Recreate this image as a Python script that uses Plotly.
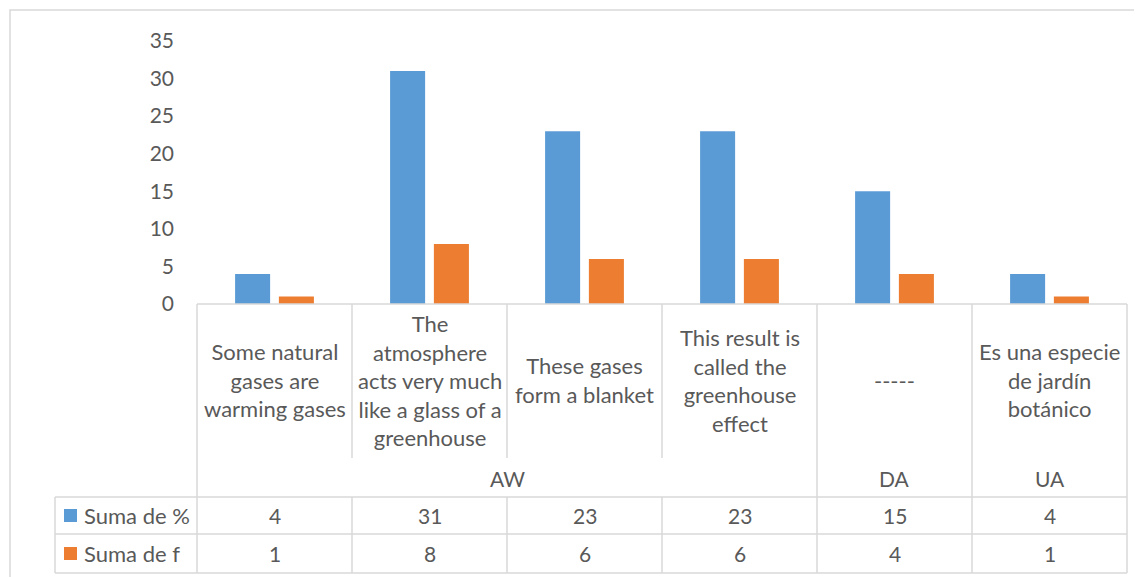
import plotly.graph_objects as go

# ---- data ----
categories = [
    "Some natural<br>gases are<br>warming gases",
    "The<br>atmosphere<br>acts very much<br>like a glass of a<br>greenhouse",
    "These gases<br>form a blanket",
    "This result is<br>called the<br>greenhouse<br>effect",
    "-----",
    "Es una especie<br>de jardín<br>botánico",
]
groups = ["AW", "AW", "AW", "AW", "DA", "UA"]
series_names = ["Suma de %", "Suma de f"]
suma_pct = [4, 31, 23, 23, 15, 4]
suma_f = [1, 8, 6, 6, 4, 1]
series_values = [suma_pct, suma_f]
colors = ["#5B9BD5", "#ED7D31"]

OFF = 8  # page body margin
W, H = 1142 - OFF, 577 - OFF
L, R, T = 197 - OFF, 15, 41 - OFF
B = H - (304 - OFF)
plot_w = W - L - R
plot_h = H - T - B
TEXT = "#595959"
GRID = "#D9D9D9"
FONT = "Lato"

def px_x(p):
    return (p - OFF - L) / plot_w

def px_y(p):
    return (H - B - (p - OFF)) / plot_h

n = len(categories)
xs = list(range(n))

def cat_edge(i):
    return i / n

fig = go.Figure()
for name, vals, col in zip(series_names, series_values, colors):
    fig.add_trace(go.Bar(x=xs, y=vals, name=name, marker_color=col,
                         marker_line_width=0, showlegend=False))

shapes = []
annotations = []

def line(x0, y0, x1, y1):
    shapes.append(dict(type="line", xref="paper", yref="paper", x0=x0, y0=y0,
                       x1=x1, y1=y1, line=dict(color=GRID, width=1.5), layer="above"))

# row positions (reference pixels)
y_top = 304
y_cat_bottom = 458
y_group_bottom = 497
y_row1_bottom = 534
y_row2_bottom = 573
legend_left = 55

# outer chart border
shapes.append(dict(type="rect", xref="paper", yref="paper",
                   x0=px_x(10), x1=px_x(1160), y0=px_y(10), y1=px_y(600),
                   line=dict(color=GRID, width=1.5), layer="below"))

line(0, 0, 1, 0)
for i in range(n + 1):
    xe = cat_edge(i)
    group_boundary = (i == 0 or i == n or groups[i] != groups[i - 1])
    if group_boundary:
        line(xe, 0, xe, px_y(y_row2_bottom))
    else:
        line(xe, 0, xe, px_y(y_cat_bottom))
        line(xe, px_y(y_group_bottom), xe, px_y(y_row2_bottom))
for yy in (y_group_bottom, y_row1_bottom, y_row2_bottom):
    line(px_x(legend_left), px_y(yy), 1, px_y(yy))
line(px_x(legend_left), px_y(y_group_bottom), px_x(legend_left), px_y(y_row2_bottom))

# category labels
for i, c in enumerate(categories):
    annotations.append(dict(x=i, xref="x", y=px_y((y_top + y_cat_bottom) / 2 - 1), yref="paper",
                            text=c, showarrow=False, font=dict(family=FONT, size=22, color=TEXT),
                            align="center", yanchor="middle"))

# group labels
seen = []
for g in groups:
    if g not in seen:
        seen.append(g)
for g in seen:
    idx = [i for i, gg in enumerate(groups) if gg == g]
    cx = (idx[0] + idx[-1]) / 2
    annotations.append(dict(x=cx, xref="x", y=px_y((y_cat_bottom + y_group_bottom) / 2 + 1), yref="paper",
                            text=g, showarrow=False, font=dict(family=FONT, size=21, color=TEXT),
                            yanchor="middle"))

row_bounds = [(y_group_bottom, y_row1_bottom), (y_row1_bottom, y_row2_bottom)]
for (r0, r1), name, vals, col in zip(row_bounds, series_names, series_values, colors):
    ym = (r0 + r1) / 2
    for i, v in enumerate(vals):
        annotations.append(dict(x=i, xref="x", y=px_y(ym), yref="paper", text=str(v),
                                showarrow=False, font=dict(family=FONT, size=21, color=TEXT),
                                yanchor="middle"))
    shapes.append(dict(type="rect", xref="paper", yref="paper",
                       x0=px_x(64), x1=px_x(77), y0=px_y(ym - 6.5), y1=px_y(ym + 6.5),
                       fillcolor=col, line=dict(width=0)))
    annotations.append(dict(x=px_x(82), xref="paper", y=px_y(ym), yref="paper", text=name,
                            showarrow=False, xanchor="left", yanchor="middle",
                            font=dict(family=FONT, size=22, color=TEXT)))

fig.update_layout(
    width=W, height=H,
    margin=dict(l=L, r=R, t=T, b=B, pad=0),
    paper_bgcolor="white", plot_bgcolor="white",
    barmode="group", bargap=0.435, bargroupgap=0.2,
    xaxis=dict(range=[-0.5, n - 0.5], showticklabels=False, showgrid=False,
               zeroline=False, showline=False, ticks=""),
    yaxis=dict(range=[0, 35], dtick=5, showgrid=False, zeroline=False, showline=False,
               ticks="", ticklabelstandoff=22,
               tickfont=dict(family=FONT, size=21, color=TEXT)),
    shapes=shapes, annotations=annotations,
    font=dict(family=FONT, color=TEXT),
)

fig.write_html("out.html")
